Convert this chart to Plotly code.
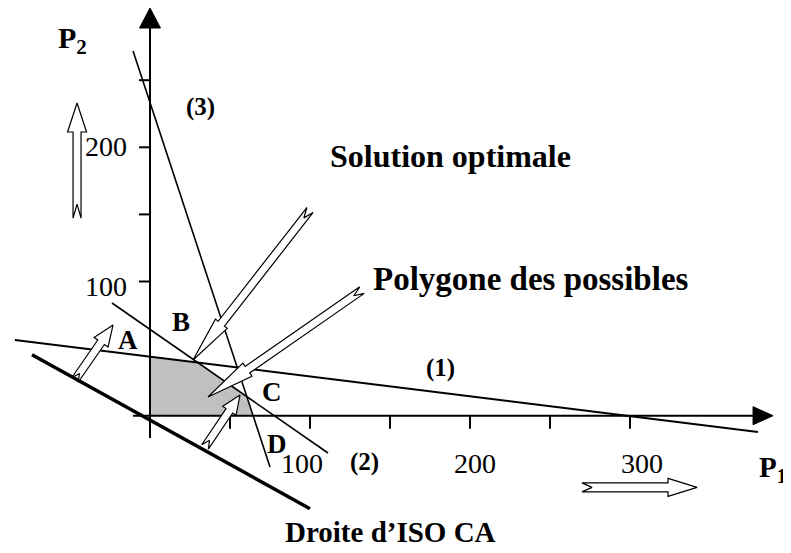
import numpy as np
import plotly.graph_objects as go

W, H = 791, 553
PAGE_OFF = 8  # default body margin of the html page

# ---------------- data (P1 / P2 units) ----------------
line1_p1 = [-84.4, 380.0]
line1_p2 = [56.4, -12.1]
line2_p1 = [-23.75, 111.25]
line2_p2 = [84.0, -27.8]
line3_p1 = [-10.6, 75.0]
line3_p2 = [271.8, -38.2]
iso_p1 = [-73.75, 100.0]
iso_p2 = [45.4, -69.3]

poly_p1 = [0, 0, 29.8, 60.5, 64.5]
poly_p2 = [0, 44.0, 39.6, 14.2, 0]

xaxis_ext = [-10.6, 389.4]
yaxis_ext = [-16.6, 303.8]
x_ticks = [50, 100, 150, 200, 250, 300]
y_ticks = [100, 150, 200, 250]
x_ticklabels = ["100", "200", "300"]
x_ticklabel_pos = [95.0, 203.1, 307.5]
y_ticklabels = ["100", "200"]
y_ticklabel_pos = [96.6, 200.3]

arrow_tail_p1 = [-45.6, 270.0, -46.9, 34.4, 100.0, 132.5]
arrow_tail_p2 = [147.2, -53.4, 26.6, -23.3, 153.3, 93.6]
arrow_tip_p1 = [-45.6, 341.9, -23.1, 56.25, 26.9, 36.25]
arrow_tip_p2 = [233.0, -53.4, 67.6, 15.4, 41.5, 13.9]

labels_text = ["<b>Solution optimale</b>", "<b>Polygone des possibles</b>", "<b>Droite d’ISO CA</b>",
               "<b>(3)</b>", "<b>(1)</b>", "<b>(2)</b>", "<b>A</b>", "<b>B</b>", "<b>C</b>", "<b>D</b>"]
labels_p1 = [188.1, 238.1, 150.0, 31.25, 181.25, 133.75, -13.75, 19.4, 76.25, 79.4]
labels_p2 = [193.5, 101.9, -86.8, 230.0, 35.5, -34.5, 56.4, 69.8, 17.7, -21.1]
labels_size = [32, 33, 29, 25, 25, 25, 27, 27, 27, 27]

# ---------------- layout geometry ----------------
FW, FH = W - PAGE_OFF, H - PAGE_OFF
X0 = -(150 - PAGE_OFF) / 1.6
X1 = X0 + FW / 1.6
Y1 = (415.7 - PAGE_OFF) / 1.342
Y0 = Y1 - FH / 1.342


def to_px(p1, p2):
    """data -> page pixels"""
    return (p1 - X0) * FW / (X1 - X0) + PAGE_OFF, (Y1 - p2) * FH / (Y1 - Y0) + PAGE_OFF


def to_data(px, py):
    """page pixels -> data"""
    return X0 + (px - PAGE_OFF) * (X1 - X0) / FW, Y1 - (py - PAGE_OFF) * (Y1 - Y0) / FH


FONT = "Liberation Serif"
fig = go.Figure()

# feasible polygon
fig.add_trace(go.Scatter(x=poly_p1 + [poly_p1[0]], y=poly_p2 + [poly_p2[0]], fill="toself",
                         fillcolor="#c0c0c0", line=dict(width=0), mode="lines", hoverinfo="skip"))

# constraint lines
for xs, ys, w in [(line1_p1, line1_p2, 2), (line2_p1, line2_p2, 1.6), (line3_p1, line3_p2, 1.6),
                  (iso_p1, iso_p2, 3.5)]:
    fig.add_trace(go.Scatter(x=xs, y=ys, mode="lines", line=dict(color="black", width=w), hoverinfo="skip"))

# axes
ox, oy = to_px(0, 0)
_, ytip = to_px(0, yaxis_ext[1])
_, ybase = to_data(ox, ytip + 20)
fig.add_trace(go.Scatter(x=[0, 0], y=[yaxis_ext[0], ybase], mode="lines",
                         line=dict(color="black", width=2), hoverinfo="skip"))
xl, _ = to_data(ox - 10.5, 0)
xr, _ = to_data(ox + 10.5, 0)
fig.add_trace(go.Scatter(x=[xl, xr, 0, xl], y=[ybase, ybase, yaxis_ext[1], ybase], fill="toself",
                         fillcolor="black", mode="lines", line=dict(color="black", width=1), hoverinfo="skip"))

xtip_px, _ = to_px(xaxis_ext[1], 0)
xbase, _ = to_data(xtip_px - 20, oy)
fig.add_trace(go.Scatter(x=[xaxis_ext[0], xbase], y=[0, 0], mode="lines",
                         line=dict(color="black", width=2), hoverinfo="skip"))
_, yt = to_data(0, oy - 9)
_, yb = to_data(0, oy + 9)
fig.add_trace(go.Scatter(x=[xbase, xbase, xaxis_ext[1], xbase], y=[yt, yb, 0, yt], fill="toself",
                         fillcolor="black", mode="lines", line=dict(color="black", width=1), hoverinfo="skip"))

# ticks
_, tick_bottom = to_data(0, oy + 13)
for t in x_ticks:
    fig.add_trace(go.Scatter(x=[t, t], y=[0, tick_bottom], mode="lines",
                             line=dict(color="black", width=2), hoverinfo="skip"))
tick_left, _ = to_data(ox - 11, 0)
for t in y_ticks:
    fig.add_trace(go.Scatter(x=[tick_left, 0], y=[t, t], mode="lines",
                             line=dict(color="black", width=2), hoverinfo="skip"))


# hollow arrows
def hollow_arrow(t1, t2, h1, h2, sw, hw, hl, notch):
    tx, ty = to_px(t1, t2)
    hx, hy = to_px(h1, h2)
    d = np.array([hx - tx, hy - ty])
    L = np.hypot(*d)
    u = d / L
    n = np.array([-u[1], u[0]])
    T = np.array([tx, ty])
    B = T + u * (L - hl)
    pts = [T + n * sw / 2, B + n * sw / 2, B + n * hw / 2, np.array([hx, hy]),
           B - n * hw / 2, B - n * sw / 2, T - n * sw / 2, T + u * notch, T + n * sw / 2]
    xs, ys = zip(*[to_data(p[0], p[1]) for p in pts])
    return list(xs), list(ys)


shaft_w = [8, 9, 8, 8, 8, 8]
head_w = [19, 18, 17, 16, 15, 16]
head_l = [29, 29, 21, 19, 46, 48]
notch_d = [14, 10, 8, 8, 10, 10]
for i in range(len(arrow_tail_p1)):
    xs, ys = hollow_arrow(arrow_tail_p1[i], arrow_tail_p2[i], arrow_tip_p1[i], arrow_tip_p2[i],
                          shaft_w[i], head_w[i], head_l[i], notch_d[i])
    fig.add_trace(go.Scatter(x=xs, y=ys, fill="toself", fillcolor="white", mode="lines",
                             line=dict(color="black", width=1.2), hoverinfo="skip"))

annotations = []
for txt, p in zip(x_ticklabels, x_ticklabel_pos):
    _, yy = to_data(0, 463)
    annotations.append(dict(x=p, y=yy, text=txt, showarrow=False,
                            font=dict(family=FONT, size=28, color="black")))
for txt, p in zip(y_ticklabels, y_ticklabel_pos):
    xx, _ = to_data(129, 0)
    annotations.append(dict(x=xx, y=p, text=txt, showarrow=False, xanchor="right",
                            font=dict(family=FONT, size=28, color="black")))
for txt, a, b, s in zip(labels_text, labels_p1, labels_p2, labels_size):
    annotations.append(dict(x=a, y=b, text=txt, showarrow=False,
                            font=dict(family=FONT, size=s, color="black")))

p1x, p1y = to_data(789, 469)
annotations.append(dict(x=p1x, y=p1y, text="<b>P</b><sub><b>1</b></sub>", showarrow=False, xanchor="right",
                        font=dict(family=FONT, size=29, color="black")))
p2x, p2y = to_data(72, 40)
annotations.append(dict(x=p2x, y=p2y, text="<b>P</b><sub><b>2</b></sub>", showarrow=False,
                        font=dict(family=FONT, size=30, color="black")))

fig.update_layout(
    width=FW, height=FH, autosize=False,
    margin=dict(l=0, r=0, t=0, b=0),
    plot_bgcolor="white", paper_bgcolor="white",
    showlegend=False,
    xaxis=dict(range=[X0, X1], visible=False, fixedrange=True),
    yaxis=dict(range=[Y0, Y1], visible=False, fixedrange=True),
    annotations=annotations,
)
fig.write_html("out.html", config={"displayModeBar": False})
